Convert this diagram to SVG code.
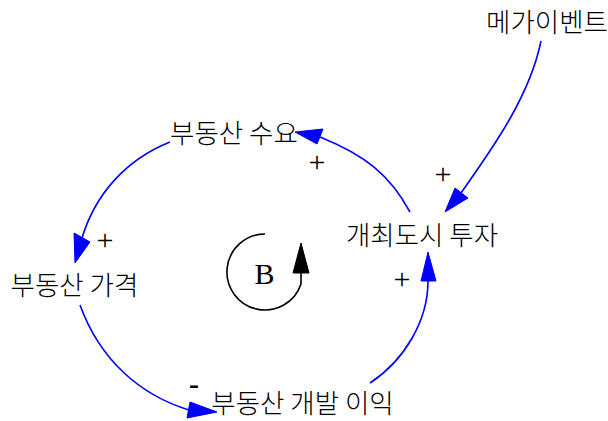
<svg xmlns="http://www.w3.org/2000/svg" width="608" height="421" viewBox="0 0 608 421">
<style>
.n{font-family:"Noto Sans CJK KR","Noto Sans",sans-serif;font-size:26.5px;font-weight:300;fill:#000;text-anchor:middle}
.l{font-family:"Liberation Serif","Times New Roman",serif;font-size:30px;fill:#000;text-anchor:middle}
.e{fill:none;stroke:#0000ff;stroke-width:1.6}
.h{fill:#0000ff;stroke:#0000ff;stroke-width:1}
</style>
<rect width="608" height="421" fill="#fff"/>
<g id="connectors">
<g id="e1"><path class="e" d="M541,41 C530,95 495,145 461,193"/><polygon class="h" points="445,212 455,188 468,198"/></g>
<g id="e2"><path class="e" d="M410,212 C390,175 365,155 320,137"/><polygon class="h" points="295,132 323,129 317,144"/></g>
<g id="e3"><path class="e" d="M170,142 C125,160 95,195 82,238"/><polygon class="h" points="75,263 74,233 90,242"/></g>
<g id="e4"><path class="e" d="M80,305 C100,360 140,395 189,410"/><polygon class="h" points="217,412 190,402 187,418"/></g>
<g id="e5"><path class="e" d="M370,383 C405,360 428,320 428,281"/><polygon class="h" points="428,252 421,281 436,281"/></g>
<text class="l" x="443" y="184">+</text>
<text class="l" x="317" y="172">+</text>
<text class="l" x="105" y="250">+</text>
<text class="l" x="402" y="289">+</text>
<text class="l" x="194" y="394" font-weight="bold">-</text>
</g>
<g id="loop">
<path d="M265,234 A38,38 0 1 0 301,284 L301,272" fill="none" stroke="#000" stroke-width="1.6"/>
<polygon points="301,243 293,273 309,273" fill="#000" stroke="#000"/>
<text class="l" x="264.5" y="284">B</text>
</g>
<g id="n_mega"><text class="n" x="547" y="32">메가이벤트</text></g>
<g id="n_demand"><text class="n" x="234" y="143">부동산 수요</text></g>
<g id="n_invest"><text class="n" x="422" y="245">개최도시 투자</text></g>
<g id="n_price"><text class="n" x="74.5" y="295">부동산 가격</text></g>
<g id="n_profit"><text class="n" x="302.5" y="413">부동산 개발 이익</text></g>
</svg>
